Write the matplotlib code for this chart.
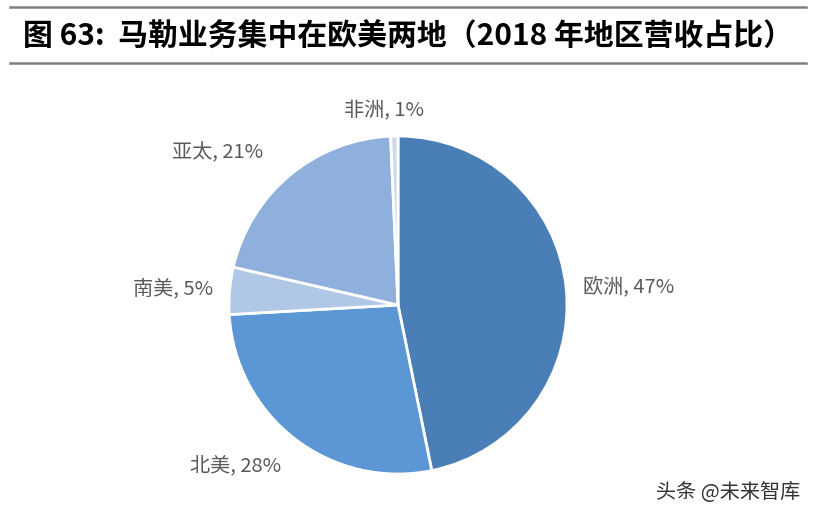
import matplotlib
matplotlib.use("Agg")
import matplotlib.pyplot as plt
from matplotlib.lines import Line2D

plt.rcParams['font.family'] = ['Noto Sans CJK SC', 'DejaVu Sans']

regions = ['欧洲', '北美', '南美', '亚太', '非洲']
shares = [46.8, 27.3, 4.5, 20.7, 0.7]
label_pct = ['47%', '28%', '5%', '21%', '1%']
colors = ['#4a7eb6', '#5b97d5', '#b1c7e6', '#8fb0dd', '#cddaee']

W, H = 816, 515
fig = plt.figure(figsize=(W / 100, H / 100), dpi=100)
fig.patch.set_facecolor('white')

# title and rules
fig.add_artist(Line2D([10 / W, 806 / W], [1 - 7 / H, 1 - 7 / H], color='#7f7f7f', lw=1.8))
fig.add_artist(Line2D([10 / W, 806 / W], [1 - 63 / H, 1 - 63 / H], color='#7f7f7f', lw=1.8))
fig.text(408 / W, 1 - 37 / H, '图 63:  马勒业务集中在欧美两地（2018 年地区营收占比）',
         ha='center', va='center', fontsize=21.5, fontweight='bold', color='black')

cx, cy, R = 398, 305, 169
ax = fig.add_axes([(cx - R) / W, (H - cy - R) / H, 2 * R / W, 2 * R / H])
labels = [f'{r}, {p}' for r, p in zip(regions, label_pct)]
wedges, texts = ax.pie(shares, colors=colors, startangle=90, counterclock=False,
                       labels=labels, labeldistance=1.1,
                       wedgeprops=dict(edgecolor='white', linewidth=2),
                       textprops=dict(fontsize=14.5, color='#5a5a5a'))
ax.set_xlim(-1, 1)
ax.set_ylim(-1, 1)
ax.set_aspect('equal')
for t in texts:
    t.set_clip_on(False)
# label placement tweaks to follow the reference layout
texts[1].set_position((-0.69, -0.95))
texts[3].set_position((-0.80, 0.90))
texts[4].set_ha('center')
texts[4].set_position((-0.08, 1.15))

fig.text(800 / W, 1 - 492 / H, '头条 @未来智库', ha='right', va='center',
         fontsize=14.5, color='#333333')

fig.savefig('out.png', dpi=100, facecolor='white')
